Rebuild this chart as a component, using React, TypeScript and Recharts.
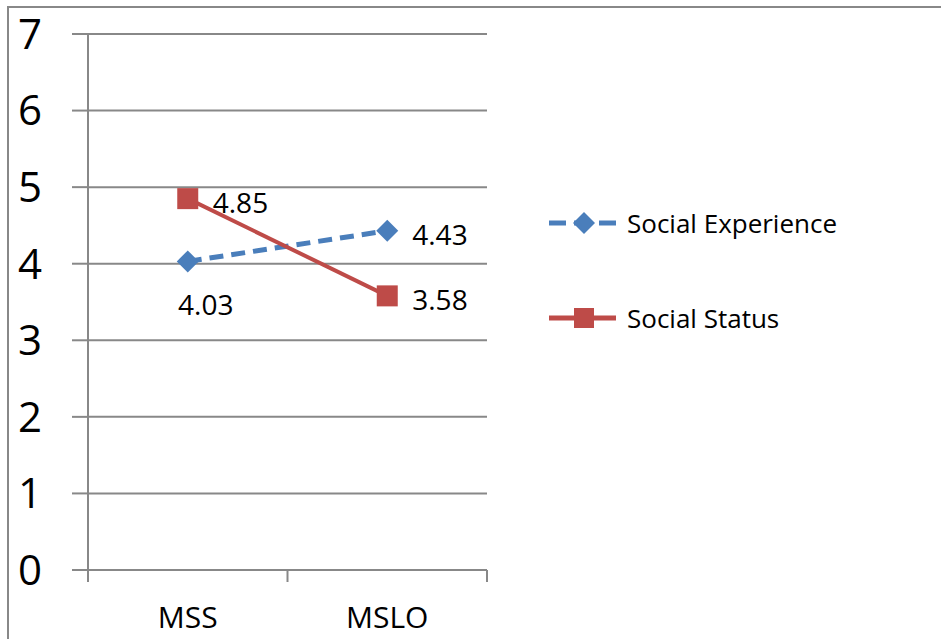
import { LineChart, Line, XAxis, YAxis, CartesianGrid, LabelList } from "recharts";

const categories = ["MSS", "MSLO"];
const socialExperience = [4.03, 4.43];
const socialStatus = [4.85, 3.58];
const yTicks = [0, 1, 2, 3, 4, 5, 6, 7];

const data = categories.map((name, i) => ({
  name,
  experience: socialExperience[i],
  status: socialStatus[i],
}));

const BLUE = "#4A7EBB";
const RED = "#BE4B48";
const GRID = "#888888";
const FONT = "'Open Sans', sans-serif";

const W = 941;
const H = 639;
const M = { top: 34, right: 454, bottom: 9, left: 0 };
const Y_AXIS_W = 88;
const X_AXIS_H = 60;
const halfBand = (W - M.right - Y_AXIS_W) / categories.length / 2;

const Diamond = ({ cx, cy, size = 11 }: any) => (
  <path d={`M${cx},${cy - size}L${cx + size},${cy}L${cx},${cy + size}L${cx - size},${cy}Z`} fill={BLUE} />
);

const Square = ({ cx, cy, side = 21 }: any) => (
  <rect x={cx - side / 2} y={cy - side / 2} width={side} height={side} fill={RED} />
);

const XTick = ({ x, y, payload, index }: any) => (
  <g>
    <line x1={x - halfBand} x2={x - halfBand} y1={y - 12} y2={y} stroke={GRID} strokeWidth={2} />
    {index === categories.length - 1 && (
      <line x1={x + halfBand} x2={x + halfBand} y1={y - 12} y2={y} stroke={GRID} strokeWidth={2} />
    )}
    <text x={x} y={y + 46} textAnchor="middle" fontSize={30} fontFamily={FONT} fill="#000">
      {payload.value}
    </text>
  </g>
);

const expLabel = ({ x, y, value, index }: any) =>
  index === 0 ? (
    <text x={x + 18} y={y + 43} textAnchor="middle" dominantBaseline="central" fontSize={28} fontFamily={FONT} fill="#000">
      {value.toFixed(2)}
    </text>
  ) : (
    <text x={x + 25} y={y + 3} dominantBaseline="central" fontSize={28} fontFamily={FONT} fill="#000">
      {value.toFixed(2)}
    </text>
  );

const statusLabel = ({ x, y, value }: any) => (
  <text x={x + 25} y={y + 3} dominantBaseline="central" fontSize={28} fontFamily={FONT} fill="#000">
    {value.toFixed(2)}
  </text>
);

const LegendBox = () => (
  <svg width={320} height={150} style={{ position: "absolute", left: 545, top: 200 }}>
    <line x1={4} x2={71} y1={23} y2={23} stroke={BLUE} strokeWidth={5} strokeDasharray="17 8" />
    <Diamond cx={39} cy={23} size={11} />
    <text x={82} y={23} dominantBaseline="central" fontSize={26} fontFamily={FONT} fill="#000">
      Social Experience
    </text>
    <line x1={4} x2={71} y1={118} y2={118} stroke={RED} strokeWidth={5} />
    <Square cx={39} cy={118} side={20} />
    <text x={82} y={118} dominantBaseline="central" fontSize={26} fontFamily={FONT} fill="#000">
      Social Status
    </text>
  </svg>
);

export default function App() {
  return (
    <div style={{ position: "absolute", left: 0, top: 0, width: W, height: H, background: "#fff", overflow: "hidden" }}>
      <div
        style={{
          position: "absolute",
          left: 7,
          top: 6,
          right: 0,
          bottom: 0,
          borderTop: `2px solid ${GRID}`,
          borderLeft: `2px solid ${GRID}`,
        }}
      />
      <LineChart width={W} height={H} data={data} margin={M} style={{ position: "absolute", left: 0, top: 0 }}>
        <CartesianGrid vertical={false} stroke={GRID} strokeWidth={2} />
        <XAxis
          dataKey="name"
          height={X_AXIS_H}
          padding={{ left: halfBand, right: halfBand }}
          axisLine={{ stroke: GRID, strokeWidth: 2 }}
          tickLine={false}
          tickSize={12}
          tickMargin={0}
          tick={<XTick />}
          interval={0}
        />
        <YAxis
          width={Y_AXIS_W}
          domain={[0, 7]}
          ticks={yTicks}
          interval={0}
          axisLine={{ stroke: GRID, strokeWidth: 2 }}
          tickLine={{ stroke: GRID, strokeWidth: 2 }}
          tickSize={16}
          tickMargin={30}
          tick={{ fontSize: 42, fill: "#000", fontFamily: FONT }}
        />
        <Line
          dataKey="experience"
          name="Social Experience"
          stroke={BLUE}
          strokeWidth={5}
          strokeDasharray="14 8"
          dot={<Diamond />}
          activeDot={false}
          isAnimationActive={false}
        >
          <LabelList dataKey="experience" content={expLabel} />
        </Line>
        <Line
          dataKey="status"
          name="Social Status"
          stroke={RED}
          strokeWidth={4}
          dot={<Square />}
          activeDot={false}
          isAnimationActive={false}
        >
          <LabelList dataKey="status" content={statusLabel} />
        </Line>
      </LineChart>
      <LegendBox />
    </div>
  );
}
